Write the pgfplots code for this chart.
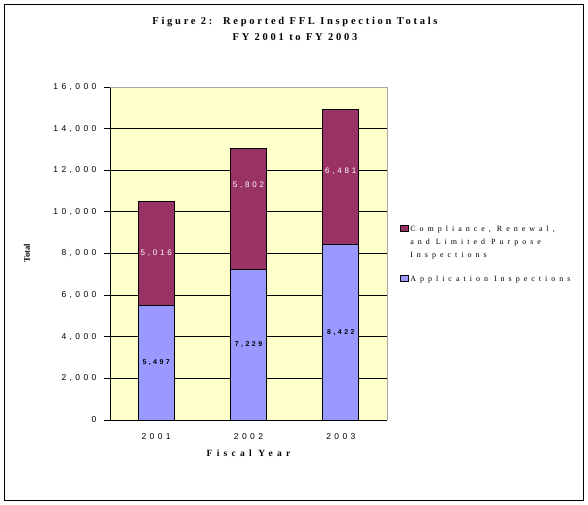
\documentclass[border=0pt]{standalone}
\usepackage{pgfplots}
\pgfplotsset{compat=1.18}
\usepackage{fontspec}
\setmainfont{Liberation Serif}
\newfontfamily\titlefont[LetterSpace=26]{Liberation Serif}
\newfontfamily\tickfont[LetterSpace=40]{Liberation Sans}
\newfontfamily\legfont[LetterSpace=50]{Liberation Serif}
\newfontfamily\labfont[LetterSpace=35]{Liberation Sans}
\newfontfamily\xlabfont[LetterSpace=45]{Liberation Serif}
\definecolor{bgyel}{HTML}{FFFFCC}
\definecolor{plum}{HTML}{993366}
\definecolor{lav}{HTML}{9999FF}
\newcommand{\shiftlab}[2]{\vphantom{#2}\raisebox{#1}[0pt][0pt]{#2}}
\begin{document}
\begin{tikzpicture}[x=1pt,y=1pt]
\useasboundingbox (0,0) rectangle (588,504);
\draw[black,line width=0.8pt] (4,4) rectangle (583,500);
\node[font=\titlefont\bfseries\fontsize{10.5}{12}\selectfont] at (295,482) {Figure 2:\ \ Reported FFL Inspection Totals};
\node[font=\titlefont\bfseries\fontsize{10.5}{12}\selectfont] at (295,467) {FY 2001 to FY 2003};
\begin{axis}[
  at={(110pt,84pt)}, anchor=south west,
  scale only axis, width=277pt, height=333pt,
  ybar stacked, bar width=0.39,
  xmin=-0.5, xmax=2.5, ymin=0, ymax=16000,
  axis background/.style={fill=bgyel},
  axis x line*=bottom, axis y line*=left,
  axis line style={black, line width=0.8pt},
  xtick={0,1,2}, xticklabels={2001,2002,2003},
  x tick style={draw=none},
  minor xtick={-0.5,0.5,1.5,2.5},
  minor x tick style={black, line width=0.8pt},
  minor tick length=5pt,
  tick align=outside,
  ytick={0,2000,...,14000},
  extra y ticks={16000}, extra y tick style={grid=none},
  y tick style={black, line width=0.8pt},
  major tick length=6pt,
  ymajorgrids, grid style={black, line width=0.8pt},
  scaled y ticks=false,
  /pgf/number format/assume math mode=true,
  /pgf/number format/1000 sep={,},
  yticklabel style={font=\tickfont\fontsize{8.5}{10}\selectfont, xshift=-4pt},
  xticklabel style={font=\tickfont\fontsize{8.5}{10}\selectfont, yshift=-4pt},
  xlabel={\xlabfont\bfseries Fiscal Year},
  xlabel style={font=\fontsize{9.5}{11}\selectfont, yshift=-3pt},
  ylabel={\bfseries Total},
  ylabel style={font=\fontsize{8.5}{10}\selectfont, at={(axis description cs:-0.3,0.5)}, anchor=center},
  reverse legend,
  legend cell align=left,
  legend style={at={(1.045,0.59)}, anchor=north west, draw=none, fill=none,
    font=\legfont\fontsize{8}{13}\selectfont, cells={align=left},
    row sep=13pt, inner sep=0pt},
  nodes near coords,
  nodes near coords style={anchor=center, font=\labfont\fontsize{7.5}{9}\selectfont,
     /pgf/number format/1000 sep={,}},
  clip=false,
]
\addplot[fill=lav, draw=black, line width=0.8pt, point meta=explicit,
  every node near coord/.append style={text=black, font=\labfont\bfseries\fontsize{7}{9}\selectfont},
  legend image code/.code={\draw[fill=lav, line width=0.6pt, draw=black] (0pt,-2pt) rectangle (8pt,4pt);}]
  coordinates {(0,5497) [5497] (1,7229) [7229] (2,8422) [8422]};
\addplot[fill=plum, draw=black, line width=0.8pt, point meta=explicit symbolic,
  nodes near coords={\pgfplotspointmeta},
  every node near coord/.append style={text=white, font=\labfont\fontsize{8}{10}\selectfont},
  legend image code/.code={\draw[fill=plum, line width=0.6pt, draw=black] (0pt,11pt) rectangle (8pt,17pt);}]
  coordinates {(0,5016) [{5,016}] (1,5802) [{\shiftlab{24pt}{5,802}}] (2,6481) [{\shiftlab{6pt}{6,481}}]};
\legend{Application Inspections, {Compliance, Renewal,\\and Limited Purpose\\Inspections}}
\draw[gray!70, line width=0.8pt] (rel axis cs:0,1) -- (rel axis cs:1,1) -- (rel axis cs:1,0);
\end{axis}
\end{tikzpicture}
\end{document}
